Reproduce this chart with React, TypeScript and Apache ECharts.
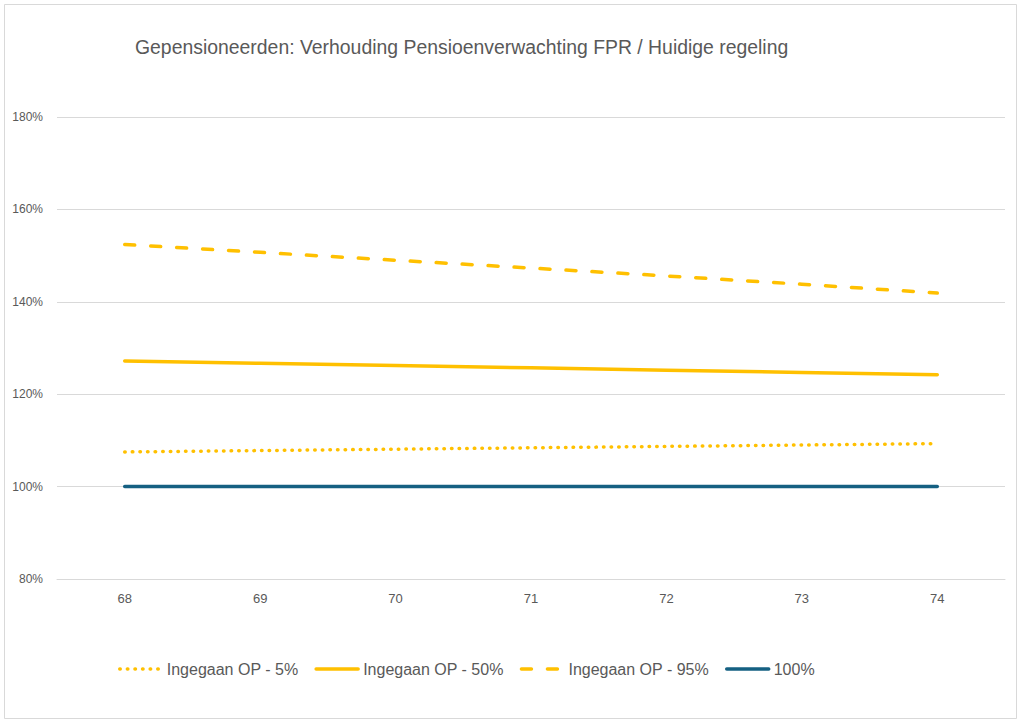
import React, { useEffect, useRef } from "react";
import * as echarts from "echarts";

const categories = ["68", "69", "70", "71", "72", "73", "74"];
const op5 = [107.5, 107.8, 108.1, 108.4, 108.7, 109.0, 109.3];
const op50 = [127.2, 126.7, 126.2, 125.7, 125.2, 124.7, 124.2];
const op95 = [152.4, 150.7, 149.0, 147.3, 145.6, 143.8, 141.9];
const base100 = [100, 100, 100, 100, 100, 100, 100];
const seriesNames = ["Ingegaan OP - 5%", "Ingegaan OP - 50%", "Ingegaan OP - 95%", "100%"];
const titleText = "Gepensioneerden: Verhouding Pensioenverwachting FPR / Huidige regeling";

const FONT = "'Liberation Sans', Arial, sans-serif";
const GREY = "#595959";
const YELLOW = "#FFC000";
const TEAL = "#156082";

export default function App() {
  const ref = useRef<HTMLDivElement>(null);
  useEffect(() => {
    if (!ref.current) return;
    const chart = echarts.init(ref.current, undefined, { renderer: "svg" });
    const mk = (name: string, data: number[], color: string, type: any) => ({
      name,
      type: "line",
      data,
      symbol: "none",
      smooth: false,
      lineStyle: { color, width: 3.5, type, cap: "round" },
      itemStyle: { color },
    });
    chart.setOption({
      animation: false,
      backgroundColor: "#ffffff",
      title: {
        text: titleText,
        left: 130,
        top: 32,
        textStyle: { fontFamily: FONT, fontSize: 19.4, fontWeight: "normal", color: GREY },
      },
      graphic: [
        {
          type: "rect",
          shape: { x: 4.5, y: 4.5, width: 1012, height: 714 },
          style: { fill: "none", stroke: "#d9d9d9", lineWidth: 1 },
          silent: true,
        },
      ],
      grid: { left: 57, right: 14, top: 117, bottom: 143 },
      xAxis: {
        type: "category",
        data: categories,
        boundaryGap: true,
        axisLine: { show: true, lineStyle: { color: "#d9d9d9", width: 1 } },
        axisTick: { show: false },
        axisLabel: { color: GREY, fontFamily: FONT, fontSize: 13, margin: 13 },
      },
      yAxis: {
        type: "value",
        min: 80,
        max: 180,
        interval: 20,
        axisLine: { show: false },
        axisTick: { show: false },
        splitLine: { lineStyle: { color: "#d9d9d9", width: 1 } },
        axisLabel: {
          color: GREY,
          fontFamily: FONT,
          fontSize: 12,
          margin: 14,
          formatter: "{value}%",
        },
      },
      legend: {
        left: 113,
        top: 656,
        itemWidth: 42,
        itemHeight: 10,
        itemGap: 16,
        data: seriesNames,
        itemStyle: { opacity: 0 },
        lineStyle: { width: 3.5 },
        textStyle: { color: GREY, fontFamily: FONT, fontSize: 16 },
      },
      series: [
        mk(seriesNames[0], op5, YELLOW, [0.5, 7.1]),
        mk(seriesNames[1], op50, YELLOW, "solid"),
        mk(seriesNames[2], op95, YELLOW, [10, 16]),
        mk(seriesNames[3], base100, TEAL, "solid"),
      ],
    });
    return () => chart.dispose();
  }, []);
  return (
    <div
      ref={ref}
      style={{ position: "absolute", left: 0, top: 0, width: 1019, height: 722 }}
    />
  );
}
